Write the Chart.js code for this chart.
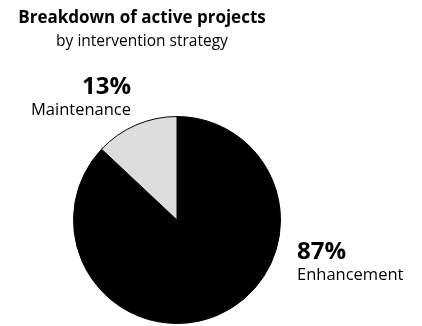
<!DOCTYPE html>
<html>
<head>
<meta charset="utf-8">
<script src="https://cdn.jsdelivr.net/npm/chart.js@4"></script>
<style>
  html, body { margin: 0; padding: 0; background: #fff; }
  #wrap { width: 422px; height: 326px; }
</style>
</head>
<body>
<div id="wrap"><canvas id="chart" width="422" height="326"></canvas></div>
<script>
const TITLE = 'Breakdown of active projects';
const SUBTITLE = 'by intervention strategy';
const CATEGORIES = ['Enhancement', 'Maintenance'];
const SHARES = [87, 13];
const COLORS = ['#000000', '#dddddd'];

const FONT = '"Open Sans", sans-serif';

// where each label sits and how it is aligned
const LABEL_SPOTS = [
  { x: 297, y: 259, align: 'left' },
  { x: 131, y: 94, align: 'right' },
];

const textPlugin = {
  id: 'textPlugin',
  afterDraw(chart) {
    const ctx = chart.ctx;
    ctx.save();
    ctx.fillStyle = '#000';
    ctx.textBaseline = 'alphabetic';

    ctx.textAlign = 'center';
    ctx.font = `bold 17px ${FONT}`;
    ctx.fillText(TITLE, 142, 23);
    ctx.font = `15.5px ${FONT}`;
    ctx.fillText(SUBTITLE, 142, 46);

    CATEGORIES.forEach((name, i) => {
      const spot = LABEL_SPOTS[i];
      ctx.textAlign = spot.align;
      ctx.font = `bold 24px ${FONT}`;
      ctx.fillText(`${SHARES[i]}%`, spot.x, spot.y);
      ctx.font = `16.5px ${FONT}`;
      ctx.fillText(name, spot.x, spot.y + 21);
    });
    ctx.restore();
  },
};

new Chart(document.querySelector('#chart'), {
  type: 'pie',
  data: {
    labels: CATEGORIES,
    datasets: [{
      data: SHARES,
      backgroundColor: COLORS,
      borderColor: '#000000',
      borderWidth: 1,
    }],
  },
  options: {
    responsive: false,
    animation: false,
    layout: {
      padding: { left: 73, right: 141, top: 116, bottom: 2 },
    },
    plugins: {
      legend: { display: false },
      tooltip: { enabled: false },
    },
  },
  plugins: [textPlugin],
});
</script>
</body>
</html>
